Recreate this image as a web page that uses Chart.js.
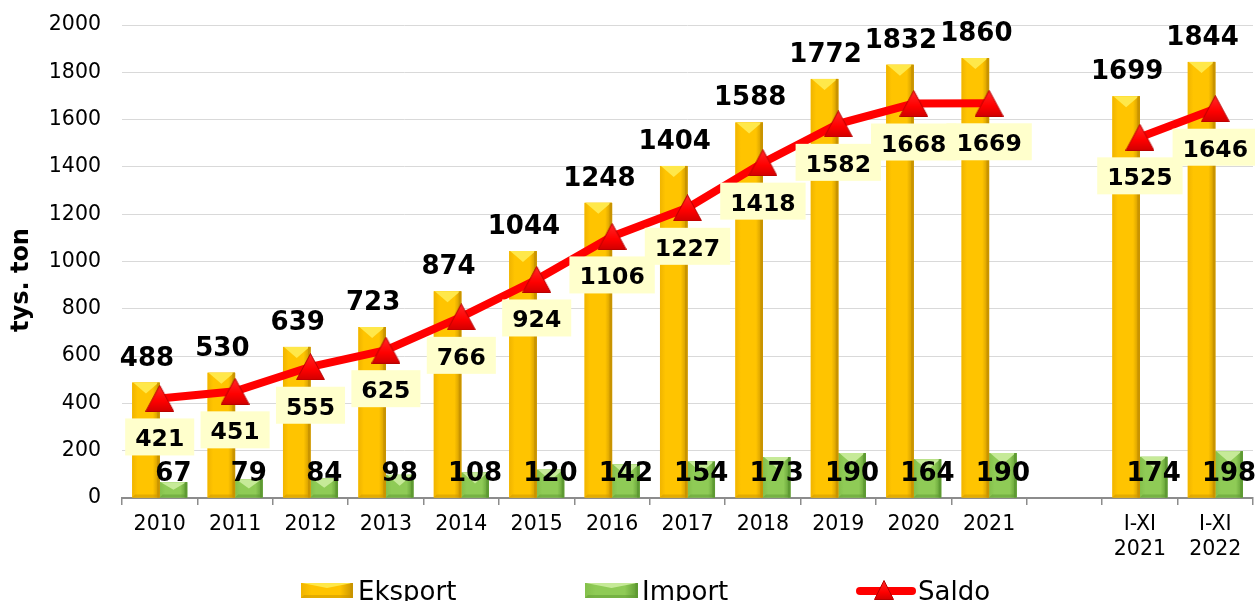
<!DOCTYPE html>
<html>
<head>
<meta charset="utf-8">
<script src="https://cdn.jsdelivr.net/npm/chart.js@4.4.0/dist/chart.umd.min.js"></script>
<style>
  html, body { margin: 0; padding: 0; background: #fff; }
  canvas { display: block; }
</style>
</head>
<body>
<canvas id="chart" width="1255" height="601"></canvas>
<script>
const categories = ["2010", "2011", "2012", "2013", "2014", "2015", "2016", "2017", "2018", "2019", "2020", "2021", "", ["I-XI", "2021"], ["I-XI", "2022"]];
const eksport = [488, 530, 639, 723, 874, 1044, 1248, 1404, 1588, 1772, 1832, 1860, null, 1699, 1844];
const importy = [67, 79, 84, 98, 108, 120, 142, 154, 173, 190, 164, 190, null, 174, 198];
const saldo = [421, 451, 555, 625, 766, 924, 1106, 1227, 1418, 1582, 1668, 1669, null, 1525, 1646];
const yTicks = [0, 200, 400, 600, 800, 1000, 1200, 1400, 1600, 1800, 2000];

const FONT = "'DejaVu Sans', Verdana, sans-serif";

const palettes = [
  { light: "#FFE84A", mid: "#FFC400", left: "#F0B400", dark: "#C99400" }, // Eksport
  { light: "#C6EA98", mid: "#8FCB56", left: "#84C04B", dark: "#5E9A32" }  // Import
];

// shaded bar, a bit like the bevelled Excel look
function paintBar(ctx, l, t, w, h, pal, b) {
  if (h <= 0) return;
  b = Math.min(b, h / 2, w / 2);
  const g = ctx.createLinearGradient(l, 0, l + w, 0);
  g.addColorStop(0, pal.left);
  g.addColorStop(0.2, pal.mid);
  g.addColorStop(0.75, pal.mid);
  g.addColorStop(1, pal.dark);
  ctx.fillStyle = g;
  ctx.fillRect(l, t, w, h);
  // top face (V shape)
  ctx.fillStyle = pal.light;
  ctx.beginPath();
  ctx.moveTo(l + 1, t); ctx.lineTo(l + w - 1, t); ctx.lineTo(l + w / 2, t + b);
  ctx.closePath(); ctx.fill();
  // right edge
  ctx.fillStyle = pal.dark;
  ctx.fillRect(l + w - 2.5, t, 2.5, h);
  // bottom edge
  ctx.globalAlpha = 0.5;
  ctx.beginPath();
  ctx.moveTo(l, t + h); ctx.lineTo(l + w, t + h); ctx.lineTo(l + w - 3, t + h - 3); ctx.lineTo(l + 3, t + h - 3);
  ctx.closePath(); ctx.fill();
  ctx.globalAlpha = 1;
}

function makeTriangle(w, h) {
  const c = document.createElement("canvas");
  c.width = w; c.height = h;
  const x = c.getContext("2d");
  const g = x.createLinearGradient(0, 0, 0, h);
  g.addColorStop(0, "#FF2A2A");
  g.addColorStop(0.6, "#FF0000");
  g.addColorStop(1, "#D00000");
  x.fillStyle = g;
  x.strokeStyle = "#B80000";
  x.lineWidth = 1;
  x.beginPath();
  x.moveTo(w / 2, 0.5); x.lineTo(w - 0.5, h - 0.5); x.lineTo(0.5, h - 0.5);
  x.closePath(); x.fill(); x.stroke();
  return c;
}
const tri = makeTriangle(29, 27);
const triSmall = makeTriangle(20, 20);

const bevelPlugin = {
  id: "bevel",
  afterDatasetDraw(chart, args) {
    if (args.meta.type !== "bar") return;
    const values = chart.data.datasets[args.index].data;
    const pal = palettes[args.index];
    const ctx = chart.ctx;
    ctx.save();
    args.meta.data.forEach((el, i) => {
      if (values[i] == null) return;
      const p = el.getProps(["x", "y", "base", "width"], true);
      paintBar(ctx, p.x - p.width / 2, p.y, p.width, p.base - p.y, pal, 11);
    });
    ctx.restore();
  }
};

const labelPlugin = {
  id: "labels",
  afterDatasetsDraw(chart) {
    const ctx = chart.ctx;
    const mE = chart.getDatasetMeta(0), mI = chart.getDatasetMeta(1), mS = chart.getDatasetMeta(2);
    ctx.save();
    ctx.textAlign = "center";
    ctx.textBaseline = "alphabetic";
    ctx.fillStyle = "#000";
    ctx.font = "bold 26px " + FONT;
    eksport.forEach((v, i) => {
      if (v == null) return;
      const el = mE.data[i];
      ctx.fillText(String(v), el.x + 1, el.y - 17);
    });
    importy.forEach((v, i) => {
      if (v == null) return;
      const el = mI.data[i];
      ctx.fillText(String(v), el.x, el.base - 17);
    });
    ctx.font = "bold 23.5px " + FONT;
    saldo.forEach((v, i) => {
      if (v == null) return;
      const el = mS.data[i];
      const txt = String(v);
      const w = ctx.measureText(txt).width + 20;
      ctx.fillStyle = "#FFFFCC";
      ctx.fillRect(el.x - w / 2, el.y + 20, w, 37);
      ctx.fillStyle = "#000";
      ctx.fillText(txt, el.x, el.y + 48);
    });
    ctx.restore();
  },
  afterDraw(chart) {
    const ctx = chart.ctx;
    ctx.save();
    // y axis title
    ctx.translate(22, 280);
    ctx.rotate(-Math.PI / 2);
    ctx.font = "bold 24px " + FONT;
    ctx.fillStyle = "#000";
    ctx.textAlign = "center";
    ctx.textBaseline = "middle";
    ctx.fillText("tys. ton", 0, 0);
    ctx.restore();

    // legend
    const ds = chart.data.datasets;
    ctx.save();
    paintBar(ctx, 301, 583, 52, 15, palettes[0], 5);
    paintBar(ctx, 585, 583, 53, 15, palettes[1], 5);
    ctx.strokeStyle = "#FF0000";
    ctx.lineWidth = 8;
    ctx.lineCap = "round";
    ctx.beginPath(); ctx.moveTo(860, 591); ctx.lineTo(912, 591); ctx.stroke();
    ctx.drawImage(triSmall, 884 - 10, 580);
    ctx.font = "26px " + FONT;
    ctx.fillStyle = "#000";
    ctx.textBaseline = "alphabetic";
    ctx.textAlign = "left";
    ctx.fillText(ds[0].label, 358, 600);
    ctx.fillText(ds[1].label, 642, 600);
    ctx.fillText(ds[2].label, 918, 600);
    ctx.restore();
  }
};

new Chart(document.getElementById("chart"), {
  type: "bar",
  data: {
    labels: categories,
    datasets: [
      {
        label: "Eksport",
        data: eksport,
        backgroundColor: palettes[0].mid,
        borderWidth: 0,
        categoryPercentage: 0.73,
        barPercentage: 1.0,
        order: 2,
      },
      {
        label: "Import",
        data: importy,
        backgroundColor: palettes[1].mid,
        borderWidth: 0,
        categoryPercentage: 0.73,
        barPercentage: 1.0,
        order: 2,
      },
      {
        type: "line",
        label: "Saldo",
        data: saldo,
        borderColor: "#FF0000",
        backgroundColor: "#FF0000",
        borderWidth: 8,
        pointStyle: tri,
        pointRadius: 14,
        spanGaps: false,
        tension: 0,
        order: 0,
      },
    ],
  },
  options: {
    responsive: false,
    animation: false,
    devicePixelRatio: 1,
    layout: { autoPadding: false, padding: { top: 25, right: 2, left: 0, bottom: 0 } },
    plugins: {
      legend: { display: false },
      tooltip: { enabled: false },
    },
    scales: {
      x: {
        afterFit: (s) => { s.height = 103; s.paddingLeft = 0; s.paddingRight = 0; },
        grid: {
          offset: true,
          drawOnChartArea: false,
          tickLength: 7,
          color: "#8C8C8C",
          lineWidth: 1.5,
        },
        border: { color: "#8C8C8C", width: 2 },
        ticks: {
          color: "#000",
          font: { family: FONT, size: 20.5, lineHeight: 1.22 },
          padding: 7,
          maxRotation: 0,
          autoSkip: false,
        },
      },
      y: {
        min: 0,
        max: 2000,
        afterFit: (s) => { s.width = 122; s.paddingTop = 0; s.paddingBottom = 0; },
        afterBuildTicks: (s) => { s.ticks = yTicks.map((v) => ({ value: v })); },
        grid: { color: "#D9D9D9", lineWidth: 1, drawTicks: false, tickLength: 0 },
        border: { display: false },
        ticks: {
          color: "#000",
          font: { family: FONT, size: 20.5 },
          padding: 21,
          callback: (v) => String(v),
        },
      },
    },
  },
  plugins: [bevelPlugin, labelPlugin],
});
</script>
</body>
</html>
